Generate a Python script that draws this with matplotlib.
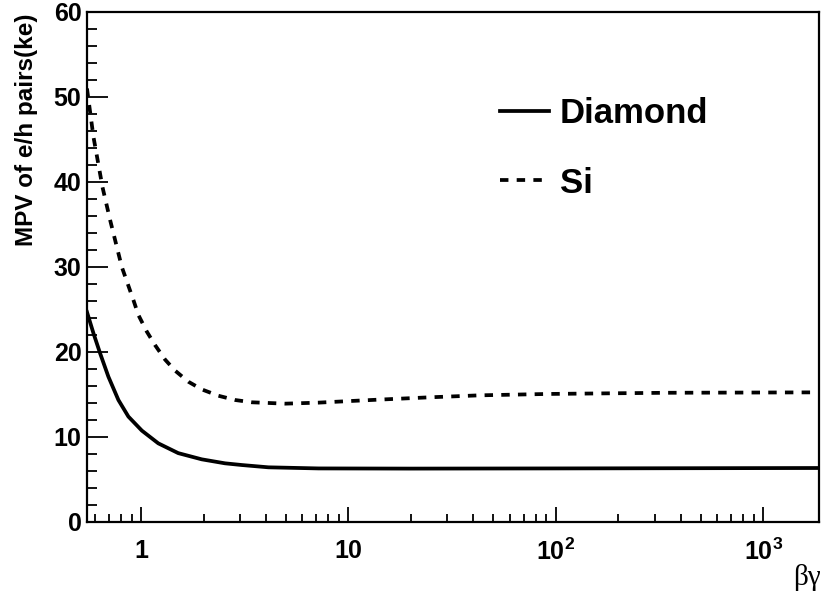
#!/usr/bin/env python3

import numpy as np
import matplotlib
matplotlib.use("Agg")
import matplotlib.pyplot as plt
from matplotlib.ticker import FixedLocator, MultipleLocator, LogLocator, NullFormatter

plt.rcParams['font.family'] = ['Liberation Sans', 'DejaVu Sans']
plt.rcParams['mathtext.fontset'] = 'custom'
plt.rcParams['mathtext.bf'] = 'Liberation Sans:bold'
plt.rcParams['mathtext.rm'] = 'Liberation Sans:bold'

# values
si_bg = [0.548, 0.589, 0.651, 0.709, 0.807, 0.918, 0.97, 1.065, 1.168, 1.305, 1.459,
         1.69, 1.96, 2.36, 2.84, 3.42, 4.95, 7.17, 10.4, 14.2, 24.8, 43, 90.6,
         188, 345, 1860]
si_mpv = [51.0, 45.3, 39.4, 35.5, 30.0, 26.1, 24.35, 22.4, 20.8, 19.1, 17.8,
          16.5, 15.6, 14.85, 14.35, 14.08, 13.92, 14.04, 14.24, 14.4, 14.67, 14.9, 15.06,
          15.14, 15.2, 15.25]

dia_bg = [0.548, 0.589, 0.634, 0.695, 0.777, 0.868, 1.008, 1.21, 1.51,
          1.96, 2.54, 3.06, 4.11, 7.17, 20, 100, 1860]
dia_mpv = [24.7, 22.2, 19.85, 17.1, 14.35, 12.4, 10.75, 9.25, 8.1,
           7.37, 6.9, 6.7, 6.43, 6.3, 6.28, 6.3, 6.35]

x_ticks = [1, 10, 100, 1000]
x_labels = ['1', '10', r'$\mathbf{10^{2}}$', r'$\mathbf{10^{3}}$']

def main():
    fig = plt.figure(figsize=(8.22, 5.96), dpi=100)
    ax = fig.add_axes([0.1058, 0.1242, 0.8906, 0.8557])

    lw = 2.7
    ax.plot(dia_bg, dia_mpv, color='black', lw=lw, label='Diamond')
    ax.plot(si_bg, si_mpv, color='black', lw=lw, dashes=(2.25, 2.2), label='Si')

    ax.set_xscale('log')
    ax.set_xlim(0.548, 1860)
    ax.set_ylim(0, 60)

    ax.xaxis.set_major_locator(FixedLocator(x_ticks))
    ax.set_xticklabels(x_labels)
    ax.xaxis.set_minor_locator(LogLocator(base=10, subs=np.arange(2, 10)))
    ax.xaxis.set_minor_formatter(NullFormatter())
    ax.yaxis.set_major_locator(MultipleLocator(10))
    ax.yaxis.set_minor_locator(MultipleLocator(2))

    for s in ax.spines.values():
        s.set_linewidth(1.6)
    ax.tick_params(axis='both', which='both', direction='in', top=False, right=False, width=1.3)
    ax.tick_params(axis='y', which='major', length=15, pad=4)
    ax.tick_params(axis='y', which='minor', length=7.5)
    ax.tick_params(axis='x', which='major', length=11, pad=12)
    ax.tick_params(axis='x', which='minor', length=6)
    for lab in ax.get_xticklabels() + ax.get_yticklabels():
        lab.set_fontsize(18)
        lab.set_fontweight('bold')

    fig.text(0.018, 0.978, 'MPV of e/h pairs(ke)', rotation=90, ha='left', va='top',
             fontsize=17.5, fontweight='bold')
    fig.text(0.998, 0.008, 'βγ', ha='right', va='bottom', fontsize=21,
             family=['Liberation Serif', 'DejaVu Serif'])

    ax.legend(loc='upper left', bbox_to_anchor=(0.564, 0.833), frameon=False,
              prop={'weight': 'bold', 'size': 25}, handlelength=1.41,
              handletextpad=0.32, labelspacing=1.05, borderpad=0, borderaxespad=0)

    fig.savefig('out.png', dpi=100)

if __name__ == "__main__":
    main()
